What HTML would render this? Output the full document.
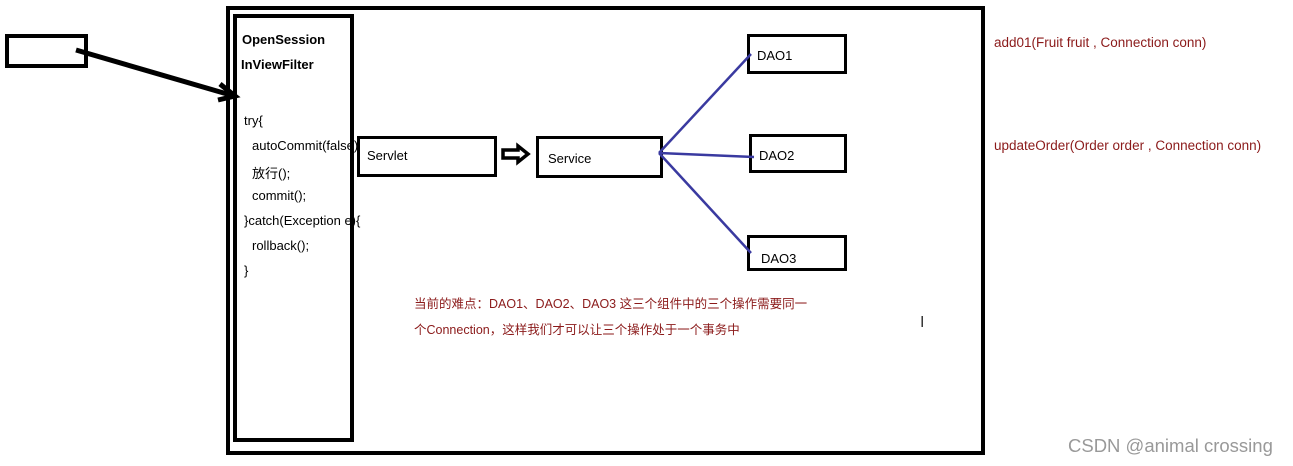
<!DOCTYPE html>
<html><head><meta charset="utf-8"><style>
body{margin:0;width:1293px;height:466px;background:#fff;position:relative;overflow:hidden;font-family:"Liberation Sans","Noto Sans CJK SC",sans-serif;}
.b{position:absolute;border:4px solid #000;box-sizing:border-box;}
.t{position:absolute;font-size:13px;color:#000;white-space:nowrap;}
.r{position:absolute;font-size:13.5px;color:#8b1a1a;white-space:nowrap;}
</style></head><body>
<div class="t" style="left:242px;top:32px;font-weight:bold;">OpenSession</div>
<div class="t" style="left:241px;top:57px;font-weight:bold;">InViewFilter</div>
<div class="t" style="left:244px;top:113px;">try{</div>
<div class="t" style="left:252px;top:138px;">autoCommit(false)</div>
<div class="t" style="left:252px;top:163px;">放行();</div>
<div class="t" style="left:252px;top:188px;">commit();</div>
<div class="t" style="left:244px;top:213px;">}catch(Exception e){</div>
<div class="t" style="left:252px;top:238px;">rollback();</div>
<div class="t" style="left:244px;top:263px;">}</div>
<div class="b" style="left:226px;top:6px;width:759px;height:449px;"></div>
<div class="b" style="left:233px;top:14px;width:121px;height:428px;"></div>
<div class="b" style="left:5px;top:34px;width:83px;height:34px;"></div>
<div class="b" style="left:357px;top:136px;width:140px;height:41px;border-width:3px"></div>
<div class="b" style="left:536px;top:136px;width:127px;height:42px;border-width:3px"></div>
<div class="b" style="left:747px;top:34px;width:100px;height:40px;border-width:3px"></div>
<div class="b" style="left:749px;top:134px;width:98px;height:39px;border-width:3px"></div>
<div class="b" style="left:747px;top:235px;width:100px;height:36px;border-width:3px"></div>
<svg style="position:absolute;left:0;top:0" width="1293" height="466">
<line x1="76" y1="50" x2="234" y2="96" stroke="#000" stroke-width="5"/>
<polyline points="220,84 235,96 218,100" fill="none" stroke="#000" stroke-width="5"/>
<path d="M503,150 h15 v-4 l10,8 l-10,8 v-4 h-15 z" fill="#fff" stroke="#000" stroke-width="3.5"/>
<g stroke="#3a3aa0" stroke-width="2.5" fill="none">
<line x1="659" y1="153" x2="751" y2="54"/>
<line x1="659" y1="153" x2="754" y2="157"/>
<line x1="659" y1="153" x2="751" y2="253"/>
</g>
<text x="920" y="327" font-size="16" fill="#333">I</text>
</svg>
<div class="t" style="left:367px;top:148px;">Servlet</div>
<div class="t" style="left:548px;top:151px;">Service</div>
<div class="t" style="left:757px;top:48px;">DAO1</div>
<div class="t" style="left:759px;top:148px;">DAO2</div>
<div class="t" style="left:761px;top:251px;">DAO3</div>
<div class="r" style="left:994px;top:35px;">add01(Fruit fruit , Connection conn)</div>
<div class="r" style="left:994px;top:138px;">updateOrder(Order order , Connection conn)</div>
<div class="r" style="left:414px;top:293px;font-size:12.5px;">当前的难点：DAO1、DAO2、DAO3 这三个组件中的三个操作需要同一</div>
<div class="r" style="left:414px;top:319px;font-size:12.5px;">个Connection，这样我们才可以让三个操作处于一个事务中</div>
<div class="t" style="left:1068px;top:435px;font-size:18.5px;color:#999;">CSDN @animal crossing</div>
</body></html>
